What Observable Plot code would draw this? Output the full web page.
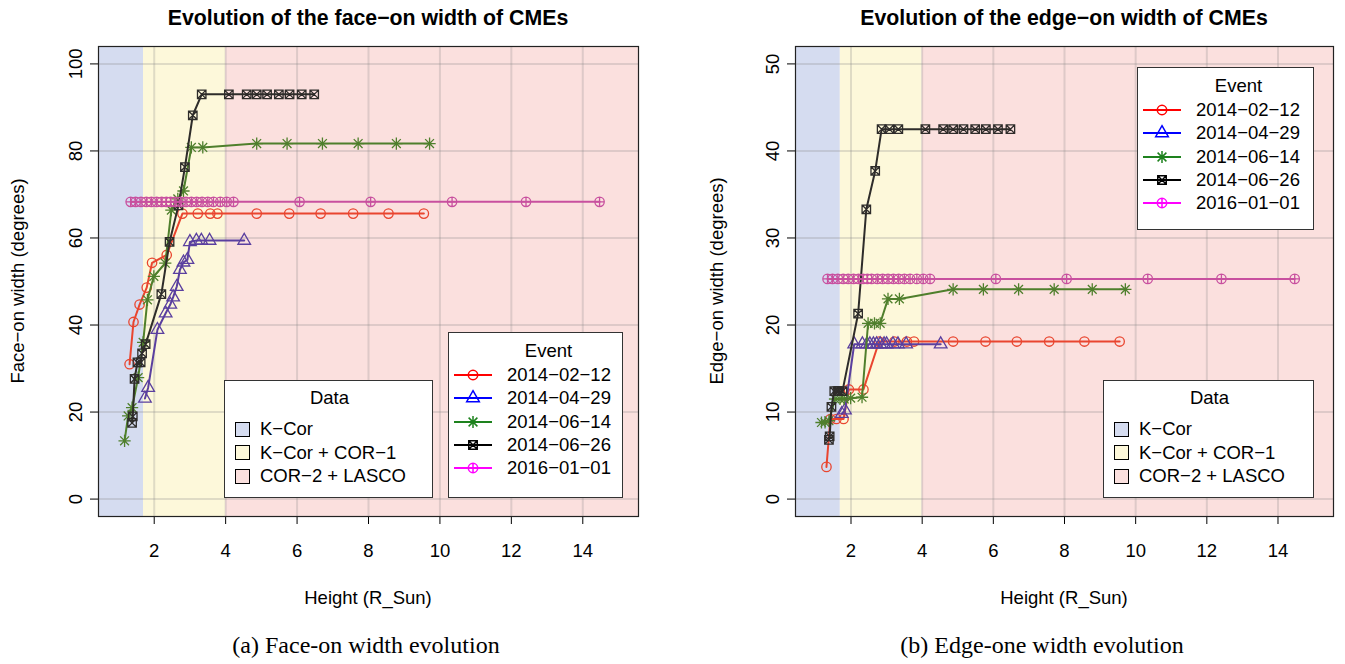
<!DOCTYPE html>
<html><head><meta charset="utf-8">
<script src="https://cdn.jsdelivr.net/npm/d3@7"></script>
<script src="https://cdn.jsdelivr.net/npm/@observablehq/plot@0.6"></script>
<style>
body{margin:0;background:#fff;}
#root{position:relative;width:1345px;height:664px;overflow:hidden;font-family:"Liberation Sans",Arial,sans-serif;color:#000;}
.abs{position:absolute;white-space:nowrap;}
.ctr{transform:translate(-50%,-50%);}
.title{font-weight:bold;font-size:21.3px;}
.lab{font-size:18.5px;}
.cap{font-family:"Liberation Serif","Times New Roman",serif;font-size:24px;}
.legend{position:absolute;background:#fff;border:1px solid #333;box-sizing:border-box;}
.legend .lt{position:absolute;font-size:18.5px;transform:translate(-50%,-50%);}
.legend .li{position:absolute;font-size:18.5px;transform:translateY(-50%);}
svg.plot{position:absolute;}
</style>
</head><body><div id="root"></div>
<script>
// ---- data ----
const events = ["2014-02-12","2014-04-29","2014-06-14","2014-06-26","2016-01-01"];
const eventLabels = ["2014\u221202\u221212","2014\u221204\u221229","2014\u221206\u221214","2014\u221206\u221226","2016\u221201\u221201"];
const plotColors = ["#e9452f","#5a3f9f","#4f7f2c","#2e2c2a","#c8509f"];
const legendColors = ["#ff0000","#0000ff","#1e821e","#000000","#ff00ff"];

const h_20140212 = [1.31,1.42,1.59,1.79,1.94,2.35,2.79,3.22,3.57,3.77,4.87,5.78,6.66,7.57,8.56,9.55];
const face_20140212 = [31.0,40.7,44.7,48.6,54.3,56.1,65.6,65.6,65.6,65.6,65.6,65.6,65.6,65.6,65.6,65.6];
const edge_20140212 = [3.7,9.2,9.2,9.2,12.6,12.6,18.1,18.1,18.1,18.1,18.1,18.1,18.1,18.1,18.1,18.1];

const h_20140429 = [1.74,1.83,2.09,2.32,2.45,2.53,2.63,2.72,2.82,2.93,3.00,3.18,3.32,3.55,4.52];
const face_20140429 = [23.1,25.6,38.9,42.7,44.7,46.4,48.8,52.7,54.4,55.0,59.1,59.4,59.4,59.4,59.4];
const edge_20140429 = [9.8,10.2,17.8,17.8,17.8,17.8,17.8,17.8,17.8,17.8,17.8,17.8,17.8,17.8,17.8];

const h_20140614 = [1.17,1.27,1.38,1.55,1.69,1.81,1.99,2.31,2.48,2.66,2.82,3.04,3.36,4.87,5.72,6.71,7.71,8.78,9.71];
const face_20140614 = [13.4,19.1,21.0,27.9,36.0,45.8,51.2,54.2,66.4,69.0,70.8,80.8,80.8,81.7,81.7,81.7,81.7,81.7,81.7];
const edge_20140614 = [8.8,8.8,9.0,11.5,11.5,11.5,11.6,11.7,20.2,20.2,20.2,23.0,23.0,24.1,24.1,24.1,24.1,24.1,24.1];

const h_20140626 = [1.38,1.40,1.45,1.53,1.62,1.66,1.76,2.20,2.43,2.68,2.86,3.08,3.33,4.09,4.59,4.87,5.16,5.49,5.79,6.13,6.48];
const face_20140626 = [17.5,19.0,27.6,31.4,31.4,33.5,35.6,47.1,59.1,67.5,76.3,88.2,93.0,93.0,93.0,93.0,93.0,93.0,93.0,93.0,93.0];
const edge_20140626 = [6.8,7.2,10.6,12.4,12.4,12.4,12.4,21.3,33.3,37.7,42.5,42.5,42.5,42.5,42.5,42.5,42.5,42.5,42.5,42.5,42.5];

const h_20160101 = [1.34,1.48,1.63,1.78,1.92,2.07,2.21,2.34,2.46,2.58,2.74,2.89,3.04,3.19,3.34,3.50,3.66,3.85,4.03,4.22,6.07,8.06,10.34,12.41,14.47];
const face_20160101 = [68.3,68.3,68.3,68.3,68.3,68.3,68.3,68.3,68.3,68.3,68.3,68.3,68.3,68.3,68.3,68.3,68.3,68.3,68.3,68.3,68.3,68.3,68.3,68.3,68.3];
const edge_20160101 = [25.3,25.3,25.3,25.3,25.3,25.3,25.3,25.3,25.3,25.3,25.3,25.3,25.3,25.3,25.3,25.3,25.3,25.3,25.3,25.3,25.3,25.3,25.3,25.3,25.3];

const bandNames = ["K\u2212Cor","K\u2212Cor + COR\u22121","COR\u22122 + LASCO"];
const bandColors = ["#d5dcf0","#fdf8da","#fbe0de"];
const xDomain = [0.44, 15.56];
const bandLo = [0.44, 1.7, 4.0];
const bandHi = [1.7, 4.0, 15.56];
const xTicks = [2,4,6,8,10,12,14];
const faceTicks = [0,20,40,60,80,100];
const faceDomain = [-4,104];
const edgeTicks = [0,10,20,30,40,50];
const edgeDomain = [-2,52];

// ---- symbols (R pch 1, 2, 8, 7, 10) ----
const symCircle = {draw(c,s){const r=Math.sqrt(s/Math.PI);c.moveTo(r,0);c.arc(0,0,r,0,2*Math.PI);}};
const symTriangle = {draw(c,s){const R=Math.sqrt(s/Math.PI)*1.55;c.moveTo(0,-R);c.lineTo(R*0.866,R*0.5);c.lineTo(-R*0.866,R*0.5);c.closePath();}};
const symAsterisk = {draw(c,s){const r=Math.sqrt(s/Math.PI)*1.3;c.moveTo(-r,0);c.lineTo(r,0);c.moveTo(0,-r);c.lineTo(0,r);const d=r*0.72;c.moveTo(-d,-d);c.lineTo(d,d);c.moveTo(-d,d);c.lineTo(d,-d);}};
const symSquareX = {draw(c,s){const r=Math.sqrt(s/Math.PI)*0.9;c.rect(-r,-r,2*r,2*r);c.moveTo(-r,-r);c.lineTo(r,r);c.moveTo(-r,r);c.lineTo(r,-r);}};
const symCirclePlus = {draw(c,s){const r=Math.sqrt(s/Math.PI);c.moveTo(r,0);c.arc(0,0,r,0,2*Math.PI);c.moveTo(-r,0);c.lineTo(r,0);c.moveTo(0,-r);c.lineTo(0,r);}};
const symbols = [symCircle, symTriangle, symAsterisk, symSquareX, symCirclePlus];
const symR = 4.7;

const hs = [h_20140212,h_20140429,h_20140614,h_20140626,h_20160101];
const faces = [face_20140212,face_20140429,face_20140614,face_20140626,face_20160101];
const edges = [edge_20140212,edge_20140429,edge_20140614,edge_20140626,edge_20160101];
const series = events.map((e,i)=>hs[i].map((h,j)=>({event:e,h,face:faces[i][j],edge:edges[i][j]})));
const bands = bandNames.map((n,i)=>({name:n,lo:bandLo[i],hi:bandHi[i]}));

const root = document.getElementById("root");
function text(t, x, y, cls, rot){
  const d=document.createElement("div");
  d.className="abs ctr "+cls; d.textContent=t;
  d.style.left=x+"px"; d.style.top=y+"px";
  if(rot) d.style.transform="translate(-50%,-50%) rotate(-90deg)";
  root.appendChild(d);
}

function makePanel(key, yDomain, yTicks, width, mL, mR, left){
  const marks = [];
  bands.forEach((b,i)=>marks.push(Plot.rect([b],{x1:"lo",x2:"hi",fill:bandColors[i]})));
  marks.push(Plot.gridX(xTicks,{stroke:"#808080",strokeOpacity:0.24,strokeWidth:2}));
  marks.push(Plot.gridY(yTicks,{stroke:"#808080",strokeOpacity:0.24,strokeWidth:2}));
  series.forEach((s,i)=>{
    marks.push(Plot.line(s,{x:"h",y:key,stroke:plotColors[i],strokeWidth:2}));
    marks.push(Plot.dot(s,{x:"h",y:key,symbol:symbols[i],r:symR,stroke:plotColors[i],fill:"none",strokeWidth:1.3}));
  });
  marks.push(Plot.axisX(xTicks,{tickSize:8,tickPadding:19,fontSize:18.5,label:null,stroke:"#000",color:"#000"}));
  marks.push(Plot.axisY(yTicks,{tickSize:8,tickPadding:9,tickRotate:-90,fontSize:18.5,label:null,color:"#000"}));
  marks.push(Plot.frame({stroke:"#222",strokeWidth:1.2}));
  const svg = Plot.plot({
    width, height:580, marginTop:10, marginBottom:100, marginLeft:mL, marginRight:mR,
    x:{domain:xDomain}, y:{domain:yDomain},
    style:{background:"transparent",fontFamily:"Liberation Sans, Arial, sans-serif",color:"#000",overflow:"visible"},
    marks
  });
  svg.classList.add("plot");
  svg.style.left=left+"px"; svg.style.top="36px";
  root.appendChild(svg);
}

function symPath(i){ return d3.symbol(symbols[i], Math.PI*symR*symR)(); }

function dataLegend(x,y,w,h,swX,labX){
  const L=document.createElement("div"); L.className="legend";
  Object.assign(L.style,{left:x+"px",top:y+"px",width:w+"px",height:h+"px"});
  const t=document.createElement("div"); t.className="lt"; t.textContent="Data";
  t.style.left=(w/2)+"px"; t.style.top="17px"; L.appendChild(t);
  bandNames.forEach((n,i)=>{
    const cy=48+i*23.5;
    const sw=document.createElement("div");
    Object.assign(sw.style,{position:"absolute",left:swX+"px",top:(cy-7.5)+"px",width:"15px",height:"15px",background:bandColors[i],border:"1px solid #000",boxSizing:"border-box"});
    L.appendChild(sw);
    const l=document.createElement("div"); l.className="li"; l.textContent=n;
    l.style.left=labX+"px"; l.style.top=cy+"px"; L.appendChild(l);
  });
  root.appendChild(L);
}

function eventLegend(x,y,w,h){
  const L=document.createElement("div"); L.className="legend";
  Object.assign(L.style,{left:x+"px",top:y+"px",width:w+"px",height:h+"px"});
  const t=document.createElement("div"); t.className="lt"; t.textContent="Event";
  t.style.left=(w/2+12)+"px"; t.style.top="18px"; L.appendChild(t);
  eventLabels.forEach((n,i)=>{
    const cy=42+i*23.3;
    const s=d3.create("svg").attr("width",44).attr("height",20)
      .style("position","absolute").style("left","3px").style("top",(cy-10)+"px");
    s.append("line").attr("x1",2).attr("x2",40).attr("y1",10).attr("y2",10).attr("stroke",legendColors[i]).attr("stroke-width",2);
    s.append("path").attr("d",symPath(i)).attr("transform","translate(21,10)").attr("fill","none").attr("stroke",legendColors[i]).attr("stroke-width",1.5);
    L.appendChild(s.node());
    const l=document.createElement("div"); l.className="li"; l.textContent=n;
    l.style.left="58px"; l.style.top=cy+"px"; L.appendChild(l);
  });
  root.appendChild(L);
}

makePanel("face", faceDomain, faceTicks, 672, 98, 34, 0);
makePanel("edge", edgeDomain, edgeTicks, 673, 123, 12, 672);

text("Evolution of the face\u2212on width of CMEs", 368, 18, "title");
text("Evolution of the edge\u2212on width of CMEs", 1064, 18, "title");
text("Face\u2212on width (degrees)", 18, 281, "lab", true);
text("Edge\u2212on width (degrees)", 717, 281, "lab", true);
text("Height (R_Sun)", 368, 598, "lab");
text("Height (R_Sun)", 1064, 598, "lab");
text("(a) Face-on width evolution", 366, 645, "cap");
text("(b) Edge-one width evolution", 1042, 645, "cap");

dataLegend(224,380,209,118,10,35);
eventLegend(448,332,175,166);
dataLegend(1103,380,211,118,10,35);
eventLegend(1137,67,177,163);
</script></body></html>
